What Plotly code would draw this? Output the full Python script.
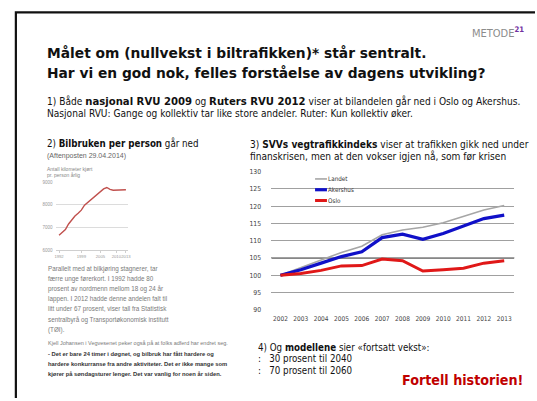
import plotly.graph_objects as go

# ---- data -------------------------------------------------------------
YEARS = [2002, 2003, 2004, 2005, 2006, 2007, 2008, 2009, 2010, 2011, 2012, 2013]
LANDET = [100.0, 102.2, 104.6, 106.6, 108.4, 111.7, 113.1, 113.9, 115.2, 117.1, 118.9, 120.2]
AKERSHUS = [100.0, 101.6, 103.5, 105.4, 106.8, 110.9, 111.9, 110.4, 112.1, 114.2, 116.4, 117.4]
OSLO = [100.0, 100.5, 101.4, 102.7, 102.8, 104.7, 104.2, 101.2, 101.6, 102.0, 103.5, 104.2]
SERIES_NAMES = ["Landet", "Akershus", "Oslo"]
INDEX_TICKS = [90, 95, 100, 105, 110, 115, 120, 125, 130]
HIGHLIGHT_LEVEL = 105

KM_YEARS = list(range(1992, 2014))
KM_PER_PERSON = [6650, 6760, 6900, 7150, 7350, 7500, 7620, 7760, 7980, 8100, 8230,
                 8380, 8500, 8620, 8700, 8760, 8680, 8640, 8650, 8660, 8670, 8660]
KM_TICKS_Y = [6000, 7000, 8000, 9000]
KM_TICKS_X = [1992, 1999, 2005, 2010, 2013]

W, H = 537, 401
NB = "\u00a0"


def px(x):
    return x / W


def py(y):
    return 1 - y / H


fig = go.Figure()

# ---- vegtrafikkindeks --------------------------------------------------
COLORS = ["#a6a6a6", "#1010c8", "#e01818"]
WIDTHS = [1.6, 3.2, 3.0]
for name, vals, col, wd in zip(SERIES_NAMES, [LANDET, AKERSHUS, OSLO], COLORS, WIDTHS):
    fig.add_trace(go.Scatter(x=YEARS, y=vals, mode="lines", name=name,
                             line=dict(color=col, width=wd), xaxis="x", yaxis="y",
                             hoverinfo="skip"))

# ---- bilbruk per person -----------------------------------------------
fig.add_trace(go.Scatter(x=KM_YEARS, y=KM_PER_PERSON, mode="lines",
                         line=dict(color="#c0504d", width=1.4),
                         xaxis="x2", yaxis="y2", hoverinfo="skip"))

fig.update_layout(
    width=W, height=H, margin=dict(l=0, r=0, t=0, b=0),
    paper_bgcolor="white", plot_bgcolor="rgba(0,0,0,0)", showlegend=False,
    font=dict(family="DejaVu Sans", color="#222"),
    xaxis=dict(domain=[px(272), px(517)], range=[2001.56, 2013.49],
               tickvals=YEARS, ticktext=[str(y) for y in YEARS],
               tickfont=dict(size=6.5, color="#444", family="DejaVu Sans Condensed"),
               showgrid=False, zeroline=False, showline=False, tickangle=0,
               ticks="outside", ticklen=2, tickcolor="rgba(0,0,0,0)", anchor="y"),
    yaxis=dict(domain=[py(312), py(171)], range=[90, 130], tickvals=INDEX_TICKS,
               tickfont=dict(size=6.8, color="#444", family="DejaVu Sans Condensed"),
               showgrid=True, gridcolor="#a0a0a0", gridwidth=1, zeroline=False,
               ticks="outside", ticklen=8, tickcolor="rgba(0,0,0,0)", anchor="x"),
    xaxis2=dict(domain=[px(55), px(127)], range=[1991.2, 2013.6],
                tickvals=KM_TICKS_X, ticktext=[str(v) for v in KM_TICKS_X],
                tickfont=dict(size=4.2, color="#999", family="Liberation Sans"),
                showgrid=False, zeroline=False, tickangle=0,
                showline=True, linecolor="#cfcfcf", linewidth=0.8,
                ticks="outside", ticklen=2, tickcolor="#cfcfcf", anchor="y2"),
    yaxis2=dict(domain=[py(251), py(181.7)], range=[6000, 9000], tickvals=KM_TICKS_Y,
                tickfont=dict(size=4.5, color="#999", family="Liberation Sans"),
                showgrid=True, gridcolor="#dcdcdc", gridwidth=0.8, zeroline=False,
                ticks="outside", ticklen=2, tickcolor="rgba(0,0,0,0)", anchor="x2"),
)

shapes = []
# highlighted 105 line
shapes.append(dict(type="line", xref="x domain", yref="y", x0=0, x1=1,
                   y0=HIGHLIGHT_LEVEL, y1=HIGHLIGHT_LEVEL,
                   line=dict(color="#111", width=1.3), layer="below"))
# legend box and keys
shapes.append(dict(type="rect", xref="paper", yref="paper", x0=px(306), x1=px(364),
                   y0=py(204), y1=py(175), fillcolor="white", line=dict(width=0),
                   layer="below"))
leg_y = [178.5, 189.5, 200.5]
for yy, col, wd in zip(leg_y, COLORS, WIDTHS):
    shapes.append(dict(type="line", xref="paper", yref="paper", x0=px(316), x1=px(328),
                       y0=py(yy), y1=py(yy), line=dict(color=col, width=wd)))
# slide frame
shapes.append(dict(type="path", xref="paper", yref="paper",
                   path=f"M {px(14)} {py(402)} L {px(14)} {py(8.5)} L {px(538)} {py(8.5)}",
                   line=dict(color="#111", width=2.2)))
fig.update_layout(shapes=shapes)

ann = []


def text(x, y, s, size, color="#111", family="DejaVu Sans", anchor="left"):
    ann.append(dict(x=px(x), y=py(y), xref="paper", yref="paper", text=s,
                    showarrow=False, xanchor=anchor, yanchor="middle",
                    font=dict(size=size, color=color, family=family)))


def wide_bold(s):
    return "<span style='font-family:DejaVu Sans'><b>" + s + "</b></span>"


for yy, name in zip(leg_y, SERIES_NAMES):
    text(327, yy, name, 6.3, "#333", "DejaVu Sans Condensed")

text(472, 29, "METODE<sup><b><span style='color:#7030a0'>21</span></b></sup>", 11,
     "#8c8c8c", "DejaVu Sans Condensed")
text(43, 50, "<b>Målet om (nullvekst i biltrafikken)* står sentralt.</b>", 13.8, "#111")
text(43, 70, "<b>Har vi en god nok, felles forståelse av dagens utvikling?</b>", 13.8, "#111")

BODY = "DejaVu Sans Condensed"
text(43, 99, "1) Både " + wide_bold("nasjonal RVU 2009") + " og " + wide_bold("Ruters RVU 2012")
     + " viser at bilandelen går ned i Oslo og Akershus.", 10.1, "#111", BODY)
text(43, 112, "Nasjonal RVU: Gange og kollektiv tar like store andeler. Ruter: Kun kollektiv øker.",
     10.1, "#111", BODY)

text(43, 142, "2) <b>Bilbruken per person</b> går ned", 9.7, "#111", BODY)
text(43, 155, "(Aftenposten 29.04.2014)", 7, "#666", "Liberation Sans")
text(43, 168, "Antall kilometer kjørt", 5, "#888", "Liberation Sans")
text(43, 174, "pr. person årlig", 5, "#888", "Liberation Sans")

para = ["Parallelt med at bilkjøring stagnerer, tar",
        "færre unge førerkort. I 1992 hadde 80",
        "prosent av nordmenn mellom 18 og 24 år",
        "lappen. I 2012 hadde denne andelen falt til",
        "litt under 67 prosent, viser tall fra Statistisk",
        "sentralbyrå og Transportøkonomisk institutt",
        "(TØI)."]
for i, line in enumerate(para):
    text(44, 270 + i * 10.4, line, 6.3, "#7a7a7a", "Liberation Sans")

text(44, 346, "Kjell Johansen i Vegvesenet peker også på at folks adferd har endret seg.",
     5.5, "#7a7a7a", "Liberation Sans")
quote = ["- Det er bare 24 timer i døgnet, og bilbruk har fått hardere og",
         "hardere konkurranse fra andre aktiviteter. Det er ikke mange som",
         "kjører på søndagsturer lenger. Det var vanlig for noen år siden."]
for i, line in enumerate(quote):
    text(44, 357 + i * 10.5, "<b>" + line + "</b>", 5.8, "#333", "Liberation Sans")

text(248, 143, "3) <b>SVVs vegtrafikkindeks</b> viser at trafikken gikk ned under", 10.1,
     "#111", BODY)
text(248, 155, "finanskrisen, men at den vokser igjen nå, som før krisen", 10.1, "#111", BODY)

text(256, 350, "4) Og <b>modellene</b> sier «fortsatt vekst»:", 9.7, "#111", BODY)
text(256, 362, ":" + NB * 3 + "30 prosent til 2040", 9.7, "#111", BODY)
text(256, 374, ":" + NB * 3 + "70 prosent til 2060", 9.7, "#111", BODY)
text(528, 384, "<b>Fortell historien!</b>", 14.2, "#c00000", BODY, anchor="right")

fig.update_layout(annotations=ann)
fig.write_html("out.html")
